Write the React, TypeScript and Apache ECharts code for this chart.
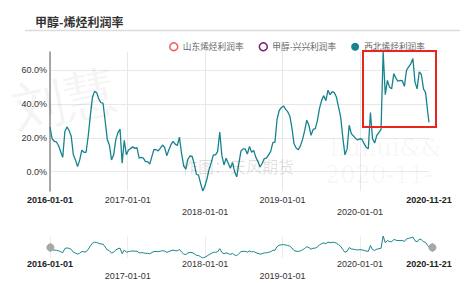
import React, { useEffect, useRef } from 'react';
import * as echarts from 'echarts';

const START_DATE = '2016-01-01';
const END_DATE = '2020-11-21';
const STEP_DAYS = 10;
const TITLE = '甲醇-烯烃利润率';
const seriesNames = ['山东烯烃利润率', '甲醇-兴兴利润率', '西北烯烃利润率'];
const mainLoweredLabels = ['2018-01-01', '2020-01-01'];
const overviewLoweredLabels = ['2017-01-01', '2019-01-01'];
// 西北烯烃利润率 (%), every 10 days from 2016-01-01, last point 2020-11-21
const xibeiValues = [
  26.3, 19.5, 18, 17.6, 15.5, 12, 8.5, 23.8, 26.5, 24.4,
  21, 10, 7, 3, 7, 12.8, 11.5, 11.5, 21, 33,
  44, 47.5, 46.8, 43, 40.8, 40.5, 30, 19, 15.7, 7,
  10, 19, 23, 25.3, 5, 18.6, 10, 12.8, 13.8, 14.7,
  13.8, 14.3, 8, 8.5, 8, 6, 6, 4.5, 8.9, 13.2,
  13, 12.3, 14, 15.8, 14.5, 9.5, 12.8, 16, 18, 16.3,
  15.5, 20.5, 10.8, 3.5, 1.5, 7.5, 9.3, 9, 4.5, -1.5,
  -2, -7, -11.4, -8.5, -4, 1.5, 5.5, 10, 10, 12,
  23.5, 9.5, 4, 8, 5, 2, 5.5, 0, -3, 5,
  12.3, 13.5, 13.5, 10.5, 15, 11.5, 12.6, 8.5, 6, 2.8,
  5, 7.8, 8, 10, 12, 17.2, 17.5, 31, 36.2, 37.9,
  38.9, 37, 35.5, 33, 26, 16.5, 14, 13, 15.3, 19,
  24.3, 30.5, 27.5, 21.5, 25, 25.5, 30.2, 37.5, 42.2, 45,
  42, 48.2, 45.6, 47.4, 46.8, 44, 38, 32.1, 20, 10,
  13.5, 27.5, 22.5, 21.2, 19.7, 18.8, 19.5, 19.2, 16.6, 14.5,
  13.6, 35, 19.5, 17, 21.5, 23.2, 25, 70.8, 45.6, 54,
  50, 49, 58, 55.3, 53.5, 54, 53.8, 50.5, 60, 62,
  63.8, 66.9, 53, 49, 59, 57.5, 49, 46.8, 35, 29.2,
];

const FONT = "'Liberation Sans', Arial, 'Noto Sans CJK SC', sans-serif";
const CJK = "'Noto Sans CJK SC', 'Liberation Sans', sans-serif";
const TEAL = '#17838d';
const RED = '#f05a5a';
const PURPLE = '#7a1a66';

const pad = (n: number) => (n < 10 ? '0' + n : '' + n);
const fmtDate = (v: number) => {
  const d = new Date(v);
  return `${d.getUTCFullYear()}-${pad(d.getUTCMonth() + 1)}-${pad(d.getUTCDate())}`;
};
const toTime = (s: string) => {
  const [y, m, d] = s.split('-').map(Number);
  return Date.UTC(y, m - 1, d);
};

const startT = toTime(START_DATE);
const endT = toTime(END_DATE);
const dates: number[] = xibeiValues.map((_, i) =>
  i === xibeiValues.length - 1 ? endT : startT + i * STEP_DAYS * 86400000
);
const points = xibeiValues.map((v, i) => [dates[i], v]);

const makeFormatter = (lowered: string[]) => (v: number) => {
  const s = fmtDate(v);
  if (s === START_DATE || s === END_DATE) return `{b|${s}}`;
  if (lowered.includes(s)) return `\n{n|${s}}`;
  return `{n|${s}}`;
};

const labelRich = {
  b: { fontSize: 9, fontWeight: 'bold', color: '#222', lineHeight: 10, fontFamily: FONT },
  n: { fontSize: 9, color: '#333', lineHeight: 10, fontFamily: FONT },
};

const HANDLE =
  'path://M10.7,11.9v-1.3H9.3v1.3c-4.9,0.3-8.8,4.4-8.8,9.4c0,5,3.9,9.1,8.8,9.4v1.3h1.3v-1.3c4.9-0.3,8.8-4.4,8.8-9.4C19.5,16.3,15.6,12.2,10.7,11.9z M13.3,24.4H6.7V23h6.6V24.4z M13.3,19.6H6.7v-1.4h6.6V19.6z';

export default function App() {
  const ref = useRef<HTMLDivElement>(null);
  useEffect(() => {
    document.body.style.margin = '0';
    const chart = echarts.init(ref.current!, null, { renderer: 'svg' });
    const option: any = {
      animation: false,
      useUTC: true,
      backgroundColor: '#fff',
      textStyle: { fontFamily: FONT },
      title: {
        text: TITLE,
        left: 30,
        top: 10,
        textStyle: { fontSize: 12, fontWeight: 'bold', color: '#333', fontFamily: CJK },
      },
      legend: {
        top: 37,
        left: 164,
        itemWidth: 8,
        itemHeight: 8,
        itemGap: 15,
        textStyle: { fontSize: 8.7, color: '#666', fontFamily: CJK },
        data: [
          { name: seriesNames[0], icon: 'circle', itemStyle: { color: '#fff', borderColor: RED, borderWidth: 1.5 } },
          { name: seriesNames[1], icon: 'circle', itemStyle: { color: '#fff', borderColor: PURPLE, borderWidth: 1.5 } },
          { name: seriesNames[2], icon: 'circle', itemStyle: { color: TEAL } },
        ],
      },
      grid: [
        { left: 50, right: 39, top: 52, height: 139, outerBoundsMode: 'none' },
        { left: 50, right: 39, top: 236, height: 22, outerBoundsMode: 'none' },
      ],
      xAxis: [
        {
          type: 'time',
          gridIndex: 0,
          min: startT,
          max: endT,
          axisLine: { show: false, onZero: false },
          axisTick: { show: false },
          splitLine: { show: true, showMinLine: false, showMaxLine: false, lineStyle: { color: '#e8e8e8', width: 1 } },
          axisLabel: {
            margin: 4,
            showMinLabel: true,
            showMaxLabel: true,
            hideOverlap: false,
            formatter: makeFormatter(mainLoweredLabels),
            rich: labelRich,
          },
        },
        {
          type: 'time',
          gridIndex: 1,
          min: startT,
          max: endT,
          axisLine: { show: false, onZero: false },
          axisTick: { show: false },
          splitLine: { show: true, showMinLine: false, showMaxLine: false, lineStyle: { color: '#ececec', width: 1 } },
          axisLabel: {
            margin: 1,
            showMinLabel: true,
            showMaxLabel: true,
            hideOverlap: false,
            formatter: makeFormatter(overviewLoweredLabels),
            rich: labelRich,
          },
        },
      ],
      yAxis: [
        {
          type: 'value',
          gridIndex: 0,
          min: 'dataMin',
          max: 'dataMax',
          axisLine: { show: true, lineStyle: { color: '#8c8c8c', width: 1.5 } },
          axisTick: { show: false },
          splitLine: { show: true, showMinLine: false, showMaxLine: false, lineStyle: { color: '#e8e8e8', width: 1 } },
          axisLabel: {
            margin: 3,
            showMinLabel: false,
            showMaxLabel: false,
            fontSize: 9,
            color: '#333',
            fontFamily: FONT,
            formatter: (v: number) => v.toFixed(1) + '%',
          },
        },
        {
          type: 'value',
          gridIndex: 1,
          min: 'dataMin',
          max: 'dataMax',
          show: false,
          splitLine: { show: false },
        },
      ],
      dataZoom: [
        {
          type: 'slider',
          xAxisIndex: [0, 1],
          filterMode: 'none',
          start: 0,
          end: 100,
          left: 48,
          right: 36,
          top: 238,
          height: 19,
          backgroundColor: 'rgba(0,0,0,0)',
          borderColor: 'rgba(0,0,0,0)',
          fillerColor: 'rgba(0,0,0,0)',
          showDataShadow: false,
          showDetail: false,
          brushSelect: false,
          moveHandleSize: 0,
          handleIcon: HANDLE,
          handleSize: 8,
          handleStyle: { color: '#a6a6a6', borderColor: '#a6a6a6' },
        },
      ],
      series: [
        { name: seriesNames[0], type: 'line', data: [], xAxisIndex: 0, yAxisIndex: 0, itemStyle: { color: RED } },
        { name: seriesNames[1], type: 'line', data: [], xAxisIndex: 0, yAxisIndex: 0, itemStyle: { color: PURPLE } },
        {
          name: seriesNames[2],
          type: 'line',
          data: points,
          xAxisIndex: 0,
          yAxisIndex: 0,
          showSymbol: false,
          symbol: 'none',
          lineStyle: { width: 1.3, color: TEAL },
          itemStyle: { color: TEAL },
        },
        {
          name: 'overview',
          type: 'line',
          data: points,
          xAxisIndex: 1,
          yAxisIndex: 1,
          symbol: 'none',
          silent: true,
          lineStyle: { width: 1, color: TEAL },
          itemStyle: { color: TEAL },
        },
      ],
      graphic: [
        { type: 'line', shape: { x1: 25, y1: 30.5, x2: 460, y2: 30.5 }, style: { stroke: '#dcdcdc', lineWidth: 1.5 } },
        { type: 'rect', shape: { x: 363, y: 51, width: 73, height: 76 }, style: { fill: 'none', stroke: '#e8261f', lineWidth: 2 }, z: 100 },
        { type: 'text', x: 8, y: 85, rotation: 0.2, style: { text: '刘慧', font: '52px serif', fill: 'rgba(0,0,0,0.045)' }, z: 50 },
        { type: 'text', x: 182, y: 158, style: { text: '作图：天风期货', font: '16px "Noto Sans CJK SC"', fill: 'rgba(0,0,0,0.12)' }, z: 50 },
        { type: 'text', x: 330, y: 136, style: { text: 'liuhui&&', font: '24px "DejaVu Serif"', fill: 'rgba(0,0,0,0.045)' }, z: 50 },
        { type: 'text', x: 325, y: 163, style: { text: '2020-11-', font: '24px "DejaVu Serif"', fill: 'rgba(0,0,0,0.045)' }, z: 50 },
      ],
    };
    chart.setOption(option);
    return () => chart.dispose();
  }, []);
  return <div ref={ref} style={{ width: 468, height: 283, position: 'fixed', left: 0, top: 0 }} />;
}
